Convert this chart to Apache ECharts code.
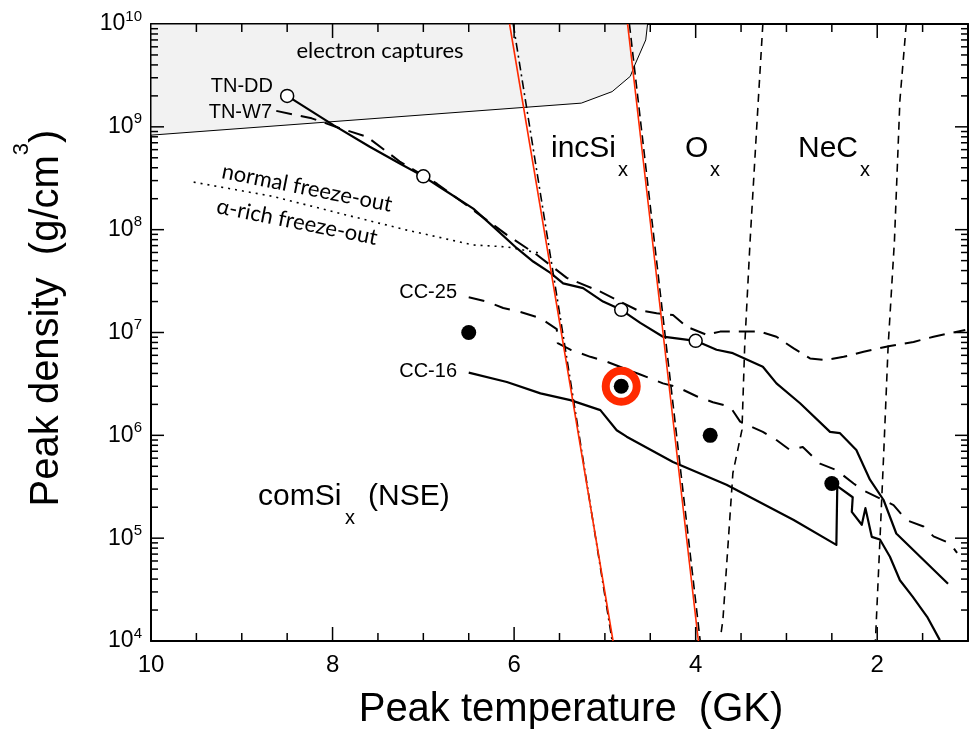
<!DOCTYPE html>
<html lang="en">
<head>
<meta charset="UTF-8">
<title>Peak density vs peak temperature</title>
<style>
    html, body { margin: 0; padding: 0; background: #fff; }
    #main { width: 978px; height: 742px; }
</style>
</head>
<body>
<div id="main"></div>
<script src="https://cdn.jsdelivr.net/npm/echarts@6/dist/echarts.min.js"></script>
<script>
    var chart = echarts.init(document.getElementById('main'));

    // electron capture region (lower boundary)
    var captureT = [10, 5.26, 4.92, 4.72, 4.67, 4.55, 4.53];
    var captureRho = [8.3e8, 1.7e9, 2.2e9, 3.1e9, 4.0e9, 7.0e9, 1e10];

    // TN-DD (solid)
    var tnddT = [8.5, 7.99, 7.59, 7.26, 7.0, 6.82, 6.45, 6.23, 5.97, 5.79, 5.60, 5.46, 5.24, 5.02, 4.82,
        4.61, 4.36, 4.0, 3.77, 3.59, 3.26, 3.11, 2.85, 2.52, 2.41, 2.23, 2.08, 1.93, 1.79, 1.22];
    var tnddRho = [2.0e9, 1.04e9, 6.4e8, 4.4e8, 3.3e8, 2.6e8, 1.6e8, 1.07e8, 6.6e7, 4.9e7, 3.8e7, 3.0e7, 2.7e7, 2.0e7, 1.66e7,
        1.24e7, 9.1e6, 8.3e6, 6.8e6, 6.3e6, 4.65e6, 3.2e6, 2.05e6, 1.08e6, 1.05e6, 7.2e5, 3.7e5, 2.35e5, 1.11e5, 3.6e4];

    // TN-W7 (dashed)
    var tnw7T = [8.62, 8.23, 7.92, 7.62, 7.26, 6.85, 6.45, 6.08, 5.75, 5.42, 5.05, 4.65, 4.43, 4.25, 4.10,
        3.88, 3.73, 3.29, 3.11, 2.92, 2.74, 2.56, 2.37, 2.15, 1.86, 1.60, 1.38, 1.03];
    var tnw7Rho = [1.43e9, 1.21e9, 9.7e8, 8.0e8, 4.6e8, 2.8e8, 1.55e8, 8.9e7, 5.7e7, 3.4e7, 2.5e7, 1.66e7, 1.54e7, 1.48e7, 1.14e7,
        9.5e6, 1.02e7, 1.02e7, 9.1e6, 7.0e6, 5.6e6, 5.4e6, 5.8e6, 6.5e6, 7.4e6, 8.1e6, 9.1e6, 1.06e7];

    // CC-25 (dashed)
    var cc25T = [6.5, 6.30, 6.12, 5.94, 5.71, 5.53, 5.52, 5.38, 5.16, 4.98, 4.61, 4.36, 4.21, 3.99, 3.81, 3.62,
        3.51, 3.26, 3.11, 2.96, 2.82, 2.63, 2.45, 2.26, 2.15, 1.82, 1.68, 1.49, 1.38, 1.20, 1.12];
    var cc25Rho = [2.2e7, 2.0e7, 1.73e7, 1.59e7, 1.38e7, 1.08e7, 7.9e6, 6.8e6, 5.8e6, 5.2e6, 3.9e6, 3.2e6, 2.97e6, 2.4e6, 2.1e6, 1.9e6,
        1.36e6, 1.08e6, 9.0e5, 7.2e5, 7.7e5, 5.3e5, 4.6e5, 3.4e5, 2.9e5, 2.1e5, 1.5e5, 1.3e5, 1.04e5, 8.9e4, 7.2e4];

    // CC-16 (solid)
    var cc16T = [6.5, 6.08, 5.71, 5.38, 5.05, 4.87, 4.76, 4.25, 3.66, 2.92, 2.45, 2.44, 2.27, 2.28, 2.17, 2.13,
        2.06, 1.97, 1.86, 1.75, 1.61, 1.45, 1.31];
    var cc16Rho = [4.07e6, 3.3e6, 2.56e6, 2.2e6, 1.76e6, 1.12e6, 9.7e5, 5.5e5, 3.3e5, 1.5e5, 8.6e4, 3.2e5, 2.5e5, 1.8e5, 1.35e5, 1.96e5,
        1.03e5, 9.7e4, 6.6e4, 3.9e4, 2.7e4, 1.72e4, 1.02e4];

    // normal / alpha-rich freeze-out border (dotted)
    var freezeT = [9.53, 8.65, 7.92, 7.18, 6.45, 6.08, 5.71];
    var freezeRho = [2.9e8, 2.1e8, 1.44e8, 9.9e7, 7.1e7, 6.8e7, 5.9e7];

    // burning regime borders
    var redAT = [6.05, 4.91], redARho = [1e10, 1e4];
    var redBT = [4.75, 3.97], redBRho = [1e10, 1e4];
    var incSiT = [6.01, 4.92], incSiRho = [1e10, 1e4];
    var oxT = [4.73, 3.95], oxRho = [1e10, 1e4];
    var oNeT = [3.26, 3.31, 3.40, 3.46, 3.49, 3.59, 3.64, 3.70, 3.72];
    var oNeRho = [1e10, 1.82e9, 7.9e7, 7.3e6, 1.13e6, 4.3e5, 9.6e4, 1.6e4, 1.2e4];
    var neCT = [1.68, 1.75, 1.81, 1.88, 1.93, 1.97, 2.02];
    var neCRho = [1e10, 1.82e9, 7.9e7, 7.3e6, 6.2e5, 9.6e4, 1e4];

    // markers
    var openT = [8.5, 7.0, 4.82, 4.0];
    var openRho = [2.0e9, 3.3e8, 1.66e7, 8.3e6];
    var filledT = [6.5, 4.82, 3.84, 2.5];
    var filledRho = [1e7, 3.0e6, 1.0e6, 3.4e5];
    var ringT = [4.82];
    var ringRho = [3.0e6];

    // tick values
    var tempLabels = [10, 8, 6, 4, 2];
    var tempTicks = [];
    for (var t = 1.5; t < 10; t += 0.5) tempTicks.push(t);
    var rhoTicks = [];
    for (var d = 4; d < 10; d++) {
        for (var k = 1; k <= 9; k++) {
            if (d === 4 && k === 1) continue;
            rhoTicks.push(k * Math.pow(10, d));
        }
    }

    var font = '"Liberation Sans", Arial, sans-serif';
    var calib = 'Lato, "Open Sans", sans-serif';
    var RED = '#ff2a00';
    var TMIN = 1, TMAX = 10, RMIN = 1e4, RMAX = 1e10;
    var GRID = { left: 151, right: 10, top: 24, bottom: 101 };
    var plotW = 978 - GRID.left - GRID.right;
    var plotH = 742 - GRID.top - GRID.bottom;

    function pairs(xs, ys) {
        return xs.map(function (x, i) { return [x, ys[i]]; });
    }

    function line(xs, ys, width, type, color, z) {
        return {
            type: 'line',
            data: pairs(xs, ys),
            symbol: 'none',
            silent: true,
            z: z || 3,
            lineStyle: { color: color || '#000', width: width, type: type || 'solid', cap: 'butt', join: 'round' }
        };
    }

    // inward ticks drawn as short line series (tick length given in px, turned into axis units)
    var tickSeries = [];
    function addTick(pts) {
        tickSeries.push({
            type: 'line', data: pts, symbol: 'none', silent: true, z: 8, clip: false,
            lineStyle: { color: '#000', width: 1.5, type: 'solid', cap: 'butt' }
        });
    }
    tempTicks.forEach(function (v) {
        var len = (v % 2 === 0) ? 14 : 8;
        var f = Math.pow(10, len / plotH * 6);
        addTick([[v, RMIN], [v, RMIN * f]]);
        addTick([[v, RMAX], [v, RMAX / f]]);
    });
    rhoTicks.forEach(function (v) {
        var lg = Math.log10(v);
        var len = Math.abs(lg - Math.round(lg)) < 1e-6 ? 13 : 7;
        var dt = len / plotW * 9;
        addTick([[TMAX, v], [TMAX - dt, v]]);
        addTick([[TMIN, v], [TMIN + dt, v]]);
    });

    function text(str, x, y, size, fam, align, rot) {
        return {
            type: 'text', x: x, y: y, z: 10, rotation: rot || 0,
            style: { text: str, fontSize: size, fontFamily: fam, fill: '#000',
                     align: align, verticalAlign: 'middle', textAlign: align, textVerticalAlign: 'middle' }
        };
    }

    var frame = { show: true, lineStyle: { color: '#000', width: 2 } };

    var series = [
        {
            type: 'custom',
            silent: true,
            z: 1,
            data: pairs(captureT, captureRho),
            renderItem: function (params, api) {
                if (params.dataIndex !== 0) return;
                var pts = captureT.map(function (x, i) { return api.coord([x, captureRho[i]]); });
                pts.push(api.coord([captureT[0], RMAX]));
                return {
                    type: 'polygon',
                    shape: { points: pts },
                    style: { fill: '#f2f2f2', stroke: '#000', lineWidth: 1 }
                };
            }
        },
        line(freezeT, freezeRho, 1.6, [2, 5]),
        line(incSiT, incSiRho, 1.6, [9, 4, 2, 4]),
        line(oxT, oxRho, 1.6, [9, 5]),
        line(oNeT, oNeRho, 1.6, [8, 6]),
        line(neCT, neCRho, 1.6, [8, 6]),
        line(redAT, redARho, 1.6, 'solid', RED, 4),
        line(redBT, redBRho, 1.6, 'solid', RED, 4),
        line(tnw7T, tnw7Rho, 2, [16, 9]),
        line(cc25T, cc25Rho, 2, [16, 11]),
        line(tnddT, tnddRho, 2.2),
        line(cc16T, cc16Rho, 2.2),
        {
            type: 'scatter', silent: true, z: 6,
            data: pairs(ringT, ringRho),
            symbol: 'circle', symbolSize: 31,
            itemStyle: { color: '#fff', borderColor: RED, borderWidth: 8, opacity: 1 }
        },
        {
            type: 'scatter', silent: true, z: 7,
            data: pairs(openT, openRho),
            symbol: 'circle', symbolSize: 13,
            itemStyle: { color: '#fff', borderColor: '#000', borderWidth: 1.5, opacity: 1 }
        },
        {
            type: 'scatter', silent: true, z: 7,
            data: pairs(filledT, filledRho),
            symbol: 'circle', symbolSize: 15,
            itemStyle: { color: '#000', opacity: 1 }
        }
    ].concat(tickSeries);

    var option = {
        animation: false,
        backgroundColor: '#fff',
        grid: GRID,
        xAxis: [
            {
                type: 'value', min: TMIN, max: TMAX, inverse: true, position: 'bottom',
                splitLine: { show: false },
                axisLine: frame,
                axisTick: { show: false },
                axisLabel: { show: true, customValues: tempLabels, fontSize: 24, fontFamily: font, color: '#000', margin: 12 }
            },
            {
                type: 'value', min: TMIN, max: TMAX, inverse: true, position: 'top',
                splitLine: { show: false }, axisLine: frame, axisTick: { show: false }, axisLabel: { show: false }
            }
        ],
        yAxis: [
            {
                type: 'log', min: RMIN, max: RMAX, logBase: 10, position: 'left',
                splitLine: { show: false },
                axisLine: frame,
                axisTick: { show: false },
                axisLabel: {
                    show: true,
                    margin: 9,
                    formatter: function (v) {
                        return '{b|10}{e|' + Math.round(Math.log10(v)) + '}';
                    },
                    rich: {
                        b: { fontSize: 23, fontFamily: font, color: '#000', lineHeight: 30 },
                        e: { fontSize: 15, fontFamily: font, color: '#000', lineHeight: 14, verticalAlign: 'top' }
                    }
                }
            },
            {
                type: 'log', min: RMIN, max: RMAX, logBase: 10, position: 'right',
                splitLine: { show: false }, axisLine: frame, axisTick: { show: false }, axisLabel: { show: false }
            }
        ],
        series: series,
        graphic: [
            text('Peak temperature  (GK)', 571, 710, 40, font, 'center'),
            {
                type: 'text', x: 47, y: 318, rotation: Math.PI / 2, z: 10,
                style: {
                    text: '{a|Peak density  (g/cm}{s|3}{a|)}',
                    rich: {
                        a: { fontSize: 40, fontFamily: font, fill: '#000', color: '#000', lineHeight: 72 },
                        s: { fontSize: 22, fontFamily: font, fill: '#000', color: '#000', lineHeight: 24, verticalAlign: 'top' }
                    },
                    align: 'center', verticalAlign: 'middle', textAlign: 'center', textVerticalAlign: 'middle'
                }
            },
            text('electron captures', 380, 51, 22, calib, 'center'),
            text('normal freeze-out', 307, 188, 22, calib, 'center', -0.197),
            text('α-rich freeze-out', 297, 222, 22, calib, 'center', -0.197),
            text('TN-DD', 273, 86, 20, font, 'right'),
            text('TN-W7', 272, 112, 20, font, 'right'),
            text('CC-25', 457, 292, 20, font, 'right'),
            text('CC-16', 457, 371, 20, font, 'right'),
            text('incSi', 551, 149, 30, font, 'left'),
            text('x', 618, 170, 20, font, 'left'),
            text('O', 685, 149, 30, font, 'left'),
            text('x', 710, 170, 20, font, 'left'),
            text('NeC', 798, 149, 30, font, 'left'),
            text('x', 860, 170, 20, font, 'left'),
            text('comSi', 258, 497, 30, font, 'left'),
            text('x', 345, 518, 20, font, 'left'),
            text('(NSE)', 368, 497, 30, font, 'left')
        ]
    };

    chart.setOption(option);
</script>
</body>
</html>
